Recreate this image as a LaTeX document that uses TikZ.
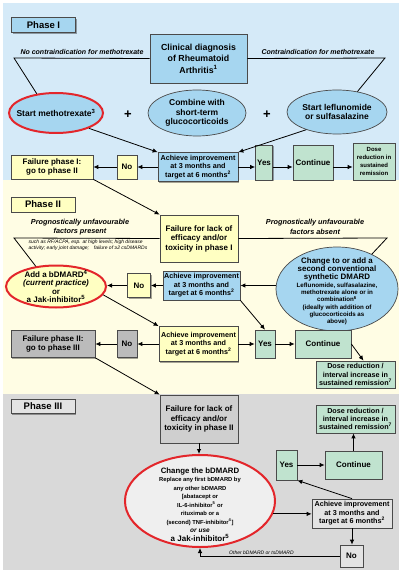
\documentclass[tikz,border=0pt]{standalone}
\usepackage{fontspec}
\setmainfont{Liberation Sans}
\usetikzlibrary{arrows.meta,shapes.geometric,shadows}
\definecolor{pblue}{HTML}{D5EAF8}
\definecolor{bblue}{HTML}{A6D6F0}
\definecolor{pyel}{HTML}{FFFDE4}
\definecolor{byel}{HTML}{FFFFC2}
\definecolor{bgreen}{HTML}{C0E3CF}
\definecolor{pgray}{HTML}{D9D9D9}
\definecolor{bgray}{HTML}{BBBBBB}
\definecolor{fgray}{HTML}{CFCFCF}
\definecolor{lgray}{HTML}{E3E3E3}
\definecolor{chgfill}{HTML}{EFEFEF}
\definecolor{rred}{HTML}{E3262B}
\definecolor{edge}{HTML}{4A4A4A}
\newcommand{\fsz}[2]{\fontsize{#1}{#2}\selectfont}
\begin{document}
\begin{tikzpicture}[x=1pt,y=-1pt,
  shad/.style={drop shadow={shadow xshift=1.4pt,shadow yshift=-1.4pt,fill=black,opacity=0.35}},
  box/.style={draw=edge,line width=0.7pt,align=center,inner sep=1pt,font=\bfseries\fsz{8}{9.5},shad},
  ach/.style={box,font=\bfseries\fsz{7.2}{8.4}},
  lbl/.style={draw=edge,line width=0.7pt,inner sep=0pt,minimum width=64pt,minimum height=15pt,font=\bfseries\fsz{9.5}{11},shad},
  ell/.style={ellipse,draw=edge,line width=0.7pt,inner sep=0pt},
  redell/.style={ellipse,draw=rred,line width=2pt,inner sep=0pt},
  etext/.style={align=center,inner sep=0pt,font=\bfseries\fsz{8.5}{9.6}},
  lab/.style={align=center,inner sep=0pt,font=\bfseries\itshape\fsz{7.3}{9.3}},
  conn/.style={line width=0.8pt,black},
  arr/.style={conn,-{Latex[length=5pt,width=4.5pt]}},
  plus/.style={font=\bfseries\fsz{13}{13},inner sep=0pt}
]
\useasboundingbox (0,0) rectangle (405,572);
\fill[white] (0,0) rectangle (405,572);
\fill[pblue] (3,3) rectangle (399,180);
\fill[pyel] (3,180) rectangle (399,394);
\fill[pgray] (3,394) rectangle (399,570);

% ---------- Phase I ----------
\node[lbl,fill=bblue] (ph1) at (43.5,25) {Phase I};
\node[box,fill=bblue,minimum width=97pt,minimum height=49pt,font=\bfseries\fsz{8.8}{11.5}] (diag) at (198.5,58.5) {Clinical diagnosis\\of Rheumatoid\\Arthritis\textsuperscript{1}};
\coordinate (cl1) at (14,58);
\coordinate (cr1) at (385,58);
\node[lab,font=\bfseries\itshape\fsz{7}{9}] (t1) at (82,52) {No contraindication for methotrexate};
\node[lab,font=\bfseries\itshape\fsz{7}{9}] (t2) at (318,52) {Contraindication for methotrexate};

\node[redell,fill=bblue,minimum width=94pt,minimum height=40pt] (mtx) at (56,113) {};
\node[etext] (mtxt) at (mtx) {Start methotrexate\textsuperscript{3}};
\node[ell,fill=bblue,minimum width=98pt,minimum height=46pt] (glu) at (197,113) {};
\node[etext] (glut) at (glu) {Combine with\\short-term\\glucocorticoids};
\node[ell,fill=bblue,minimum width=100pt,minimum height=44pt] (lef) at (337,112) {};
\node[etext] (left) at (lef) {Start leflunomide\\or sulfasalazine};
\node[plus] (p1) at (128,115) {+};
\node[plus] (p2) at (267,115) {+};

\node[box,fill=byel,minimum width=82pt,minimum height=24pt] (f1) at (52,167) {Failure phase I:\\go to phase II};
\node[box,fill=byel,minimum width=20pt,minimum height=24pt] (n1) at (127,167) {No};
\node[ach,fill=bblue,minimum width=80pt,minimum height=29pt] (a1) at (198,167) {Achieve improvement\\at 3 months and\\target at 6 months\textsuperscript{2}};
\node[box,fill=bgreen,minimum width=17pt,minimum height=35pt] (y1) at (264,162.5) {Yes};
\node[box,fill=bgreen,minimum width=40pt,minimum height=35pt] (c1) at (313,162.5) {Continue};
\node[box,fill=bgreen,minimum width=42pt,minimum height=37pt,font=\bfseries\fsz{6}{8.3}] (d1) at (374,161.5) {Dose\\reduction in\\sustained\\remission};

% ---------- Phase II ----------
\node[lbl,fill=byel] (ph2) at (43,204.5) {Phase II};
\node[box,fill=byel,minimum width=78pt,minimum height=47pt] (fb) at (199,238.5) {Failure for lack of\\efficacy and/or\\toxicity in phase I};
\coordinate (cl2) at (14,238);
\coordinate (cr2) at (387,238);
\node[lab] (t3) at (80,227) {Prognostically unfavourable\\factors present};
\node[lab] (t4) at (315,227) {Prognostically unfavourable\\factors absent};
\node[align=left,inner sep=0pt,font=\itshape\fsz{5}{6}] (t5) at (88,245) {such as RF/ACPA, esp. at high levels; high disease\\activity; early joint damage;\quad failure of ≥2 csDMARDs};

\node[redell,fill=byel,minimum width=100pt,minimum height=42pt] (bd) at (56,286.5) {};
\node[etext,font=\bfseries\fsz{8}{8.4}] (bdt) at (bd) {Add a bDMARD\textsuperscript{4}\\{\itshape (current practice)}\\or\\a Jak-inhibitor\textsuperscript{5}};
\node[box,fill=byel,minimum width=23pt,minimum height=24pt] (n2) at (139,285.5) {No};
\node[ach,fill=bblue,minimum width=77pt,minimum height=29pt] (a2) at (201.5,285.5) {Achieve improvement\\at 3 months and\\target at 6 months\textsuperscript{2}};
\node[ell,fill=bblue,minimum width=122pt,minimum height=84pt] (csd) at (337,289) {};
\node[etext,font=\bfseries\fsz{6.2}{7.2}] (csdt) at (337,291) {{\fsz{7.9}{9}Change to or add a}\\[0.3pt]{\fsz{7.9}{9}second conventional}\\[0.3pt]{\fsz{7.9}{9}synthetic DMARD}\\[1pt]Leflunomide, sulfasalazine,\\methotrexate alone or in\\combination\textsuperscript{6}\\(ideally with addition of\\glucocorticoids as\\above)};

\node[box,fill=bgray,minimum width=84pt,minimum height=27pt] (f2) at (53,344) {Failure phase II:\\go to phase III};
\node[box,fill=bgray,minimum width=20pt,minimum height=27pt] (n3) at (127,344) {No};
\node[ach,fill=byel,minimum width=79pt,minimum height=35pt] (a3) at (198.5,344) {Achieve improvement\\at 3 months and\\target at 6 months\textsuperscript{2}};
\node[box,fill=bgreen,minimum width=20pt,minimum height=28pt] (y2) at (265,344) {Yes};
\node[box,fill=bgreen,minimum width=56pt,minimum height=28pt] (c2) at (323,344) {Continue};
\node[box,fill=bgreen,minimum width=79pt,minimum height=27pt,font=\bfseries\fsz{7.2}{8.4}] (d2) at (355.5,374.5) {Dose reduction /\\interval increase in\\sustained remission\textsuperscript{7}};

% ---------- Phase III ----------
\node[lbl,fill=lgray,minimum height=14pt] (ph3) at (43,406.5) {Phase III};
\node[box,fill=fgray,minimum width=78pt,minimum height=48pt] (f3) at (199,419) {Failure for lack of\\efficacy and/or\\toxicity in phase II};
\node[redell,fill=chgfill,minimum width=150pt,minimum height=92pt] (chg) at (200,501) {};
\node[etext,font=\bfseries\fsz{5.8}{8.5}] (chgt) at (200,504.5) {{\fsz{7.8}{9}Change the bDMARD}\\Replace any first bDMARD by\\any other bDMARD\\{[}abatacept or\\IL-6-inhibitor\textsuperscript{5} or\\rituximab or a\\(second) TNF-inhibitor\textsuperscript{4}{]}\\{\itshape\fsz{6.5}{8}or use}\\{\fsz{8}{9}a Jak-inhibitor\textsuperscript{5}}};
\node[box,fill=bgreen,minimum width=79pt,minimum height=28pt,font=\bfseries\fsz{7.2}{8.4}] (d3) at (355.5,419) {Dose reduction /\\interval increase in\\sustained remission\textsuperscript{7}};
\node[box,fill=bgreen,minimum width=21pt,minimum height=30pt] (y3) at (286.5,465) {Yes};
\node[box,fill=bgreen,minimum width=57pt,minimum height=28pt] (c3) at (353.5,465) {Continue};
\node[ach,fill=lgray,minimum width=80pt,minimum height=29pt] (a4) at (352,513.5) {Achieve improvement\\at 3 months and\\target at 6 months\textsuperscript{2}};
\node[box,fill=lgray,minimum width=23pt,minimum height=22pt] (n4) at (351.5,556) {No};

% ---------- connectors ----------
\draw[conn] (diag.west) -- (cl1) -- (mtx.135);
\draw[conn] (diag.east) -- (cr1) -- (lef.45);
\draw[arr] (mtx.-25) -- (a1.north west);
\draw[arr] (lef.-150) -- (a1.north east);
\draw[arr] (a1.west) -- (n1.east);
\draw[arr] (n1.west) -- (f1.east);
\draw[arr] (a1.east) -- (a1.east -| y1.west);
\draw[arr] (y1.east |- a1.east) -- (c1.west |- a1.east);
\draw[arr] (c1.east |- a1.east) -- (d1.west |- a1.east);

\draw[arr] (f1.south east) -- (fb.north west);
\draw[conn] (fb.west) -- (cl2) -- (bd.135);
\draw[conn] (fb.east) -- (cr2) -- (csd.45);
\draw[arr] (csd.west |- a2.east) -- (a2.east);
\draw[arr] (a2.west) -- (n2.east);
\draw[arr] (n2.west) -- (n2.west -| bd.east);
\draw[arr] (a2.south east) -- (y2.north);
\draw[arr] (bd.-10) -- (a3.north west);
\draw[arr] (a3.west) -- (n3.east);
\draw[arr] (n3.west) -- (f2.east);
\draw[arr] (a3.east) -- (y2.west);
\draw[arr] (y2.east) -- (c2.west);
\draw[arr] (c2.east) -- ([xshift=8pt]d2.north);
\draw[arr] (f2.south east) -- (f3.north west);

\draw[arr] (f3.south) -- (f3.south |- chg.north);
\draw[arr] (chg.-10) -- (chg.-10 -| a4.west);
\draw[arr] (a4.north) -- (y3.south east);
\draw[arr] (y3.east) -- (c3.west);
\draw[arr] (c3.north) -- (c3.north |- d3.south);
\draw[arr] (a4.south) -- (a4.south |- n4.north);
\draw[arr] (n4.west) -| node[pos=0.28,above=0.3pt,font=\itshape\fsz{5}{6},inner sep=0.5pt] (t6) {Other bDMARD or tsDMARD} (chg.south);
\end{tikzpicture}
\end{document}
